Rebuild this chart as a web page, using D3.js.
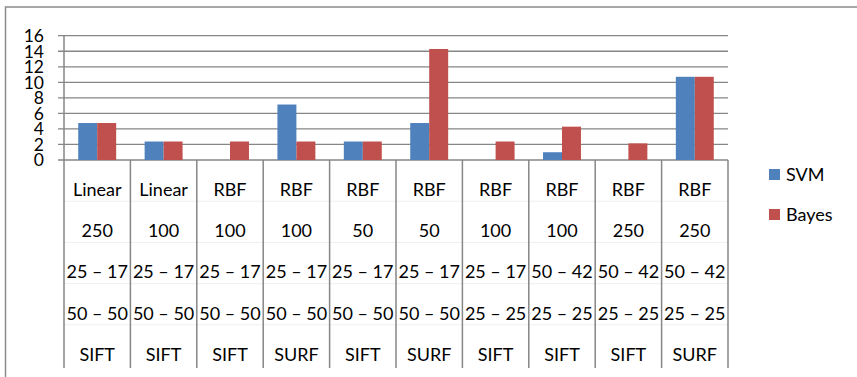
<!DOCTYPE html>
<html><head><meta charset="utf-8">
<script src="https://cdn.jsdelivr.net/npm/d3@7"></script>
<style>
html,body{margin:0;padding:0;background:#fff;}
svg{display:block;font-family:Lato,"Open Sans",sans-serif;}
</style></head>
<body>
<svg id="chart" width="857" height="377"></svg>
<script>
// Data
const kernels = ["Linear","Linear","RBF","RBF","RBF","RBF","RBF","RBF","RBF","RBF"];
const params  = ["250","100","100","100","50","50","100","100","250","250"];
const split1  = ["25 \u2013 17","25 \u2013 17","25 \u2013 17","25 \u2013 17","25 \u2013 17","25 \u2013 17","25 \u2013 17","50 \u2013 42","50 \u2013 42","50 \u2013 42"];
const split2  = ["50 \u2013 50","50 \u2013 50","50 \u2013 50","50 \u2013 50","50 \u2013 50","50 \u2013 50","25 \u2013 25","25 \u2013 25","25 \u2013 25","25 \u2013 25"];
const features= ["SIFT","SIFT","SIFT","SURF","SIFT","SURF","SIFT","SIFT","SIFT","SURF"];
const svmValues   = [4.76, 2.38, 0, 7.14, 2.38, 4.76, 0, 1.0, 0, 10.71];
const bayesValues = [4.76, 2.38, 2.38, 2.38, 2.38, 14.29, 2.38, 4.29, 2.14, 10.71];
const seriesNames = ["SVM","Bayes"];
const seriesColors = ["#4F81BD","#C0504D"];
const yTicks = [0,2,4,6,8,10,12,14,16];

(function(){
const idx = d3.range(kernels.length);
const rows = [kernels, params, split1, split2, features];

const svg = d3.select("#chart");
const pLeft = 64, pRight = 728, pTop = 35.7, pBottom = 160;
const gridColor = "#868686";

// chart border (top and left only visible)
svg.append("path").attr("d","M5.5,377 V7 H857").attr("fill","none").attr("stroke","#8c8c8c").attr("stroke-width",1.5);

const x = d3.scaleBand().domain(idx).range([pLeft,pRight]).paddingInner(0).paddingOuter(0);
const gap = 1.5;
const groupW = x.bandwidth()*2/(2+gap);
const xs = d3.scaleBand().domain([0,1]).range([0,groupW]);
const y = d3.scaleLinear().domain([0,16]).range([pBottom,pTop]);

// gridlines
svg.append("g").selectAll("line").data(yTicks).join("line")
  .attr("x1",pLeft-6).attr("x2",pRight).attr("y1",d=>y(d)).attr("y2",d=>y(d))
  .attr("stroke",gridColor).attr("stroke-width",1.3);

// y labels
svg.append("g").selectAll("text").data(yTicks).join("text")
  .attr("x",44).attr("y",d=>y(d)).attr("dy","0.36em").attr("text-anchor","end")
  .attr("font-size",17.5).attr("fill","#000").text(d=>d);

// bars
const series = [svmValues, bayesValues];
series.forEach((vals,si)=>{
  svg.append("g").selectAll("rect").data(idx).join("rect")
    .attr("x",i=>x(i)+(x.bandwidth()-groupW)/2+xs(si))
    .attr("width",xs.bandwidth())
    .attr("y",i=>y(vals[i]))
    .attr("height",i=>y(0)-y(vals[i]))
    .attr("fill",seriesColors[si]);
});

// y axis line
svg.append("line").attr("x1",pLeft).attr("x2",pLeft).attr("y1",pTop).attr("y2",pBottom)
  .attr("stroke",gridColor).attr("stroke-width",1.5);

// data table
const rowH = 41.2, tableTop = pBottom, tableBottom = 368;
svg.append("g").selectAll("line").data(d3.range(1,rows.length)).join("line")
  .attr("x1",pLeft).attr("x2",pRight)
  .attr("y1",r=>tableTop+r*rowH).attr("y2",r=>tableTop+r*rowH)
  .attr("stroke","#f0f0f0").attr("stroke-width",1);
svg.append("g").selectAll("line").data(d3.range(kernels.length+1)).join("line")
  .attr("x1",i=>i<kernels.length?x(i):pRight).attr("x2",i=>i<kernels.length?x(i):pRight)
  .attr("y1",tableTop).attr("y2",tableBottom)
  .attr("stroke",gridColor).attr("stroke-width",1.5);

rows.forEach((row,r)=>{
  svg.append("g").selectAll("text").data(idx).join("text")
    .attr("x",i=>x(i)+x.bandwidth()/2)
    .attr("y",tableTop+29.5+r*rowH)
    .attr("dy","0.36em").attr("text-anchor","middle")
    .attr("font-size",18).attr("fill","#000")
    .text(i=>row[i]);
});

// legend
const legend = svg.append("g").selectAll("g").data(seriesNames).join("g")
  .attr("transform",(d,i)=>`translate(769,${169+i*40})`);
legend.append("rect").attr("width",11).attr("height",11).attr("fill",(d,i)=>seriesColors[i]);
legend.append("text").attr("x",17).attr("y",5.5).attr("dy","0.36em")
  .attr("font-size",18).attr("fill","#000").text(d=>d);
})();
</script>
</body></html>
